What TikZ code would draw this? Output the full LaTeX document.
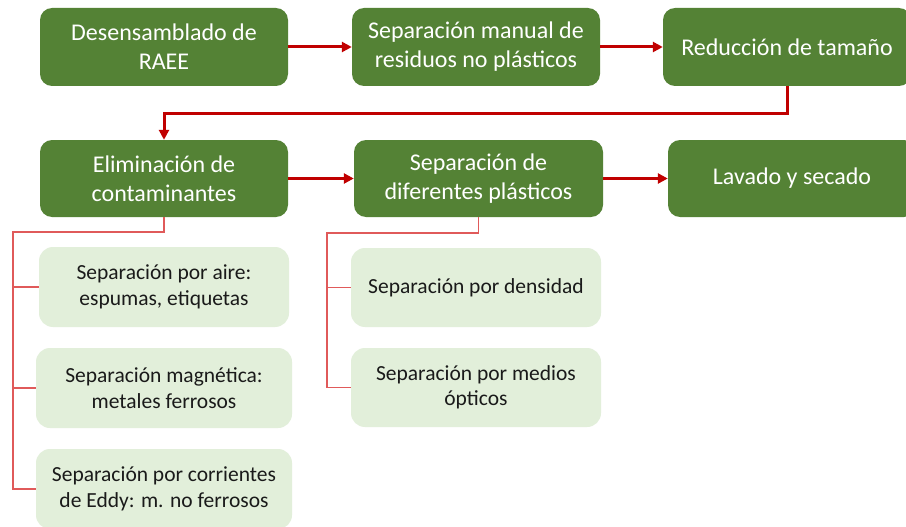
\documentclass[tikz,border=0pt]{standalone}
\usepackage{fontspec}
\setmainfont{Carlito}
\usetikzlibrary{arrows.meta,calc}
\definecolor{dgreen}{HTML}{548235}
\definecolor{lgreen}{HTML}{E2EFDA}
\definecolor{darr}{HTML}{C00000}
\definecolor{tline}{HTML}{E05A5A}
\definecolor{ltext}{HTML}{1A1A1A}
\tikzset{
  darkbox/.style={rectangle, rounded corners=12pt, fill=dgreen, text=white,
    minimum width=248pt, minimum height=78pt, align=center, inner sep=2pt,
    font=\fontsize{24}{29}\selectfont},
  lightbox/.style={rectangle, rounded corners=14pt, fill=lgreen, text=ltext,
    minimum width=250pt, minimum height=80pt, align=center, inner sep=2pt,
    font=\fontsize{21.5}{25.5}\selectfont},
  flowarr/.style={draw=darr, line width=3pt, -{Triangle[length=10pt,width=10pt]}},
  branch/.style={draw=tline, line width=1.4pt},
}
\begin{document}
\begin{tikzpicture}[x=1pt,y=-1pt]
\clip (0,0) rectangle (906,527);
\fill[white] (0,0) rectangle (906,527);
\node[darkbox] (d1) at (164,47) {Desensamblado de\\RAEE};
\node[darkbox] (d2) at (476,47) {Separación manual de\\residuos no plásticos};
\node[darkbox] (d3) at (787,47) {Reducción de tamaño};
\node[darkbox, minimum height=77pt] (d4) at (164,178.5) {Eliminación de\\contaminantes};
\node[darkbox, minimum width=249pt, minimum height=77pt] (d5) at (478.5,178.5) {Separación de\\diferentes plásticos};
\node[darkbox, minimum height=77pt] (d6) at (792,178.5) {Lavado y secado};
\node[lightbox] (l1) at (164,287) {Separación por aire:\\espumas, etiquetas};
\node[lightbox, minimum width=256pt] (l2) at (164,388) {Separación magnética:\\metales ferrosos};
\node[lightbox, minimum width=256pt] (l3) at (164,489) {Separación por corrientes\\de Eddy: m. no ferrosos};
\node[lightbox, minimum height=79pt] (r1) at (476,287.5) {Separación por densidad};
\node[lightbox, minimum height=79pt] (r2) at (476,387.5) {Separación por medios\\ópticos};
\draw[flowarr] (d1) -- (d2);
\draw[flowarr] (d2) -- (d3);
\draw[flowarr] (d3.south) -- ++(0,27) -| (d4.north);
\draw[flowarr] (d4) -- (d5);
\draw[flowarr] (d5) -- (d6);
\coordinate (la) at (13,232);
\coordinate (rb) at (327,233);
\draw[branch] (d4.south) |- (la) |- (l3.west);
\draw[branch] (la) |- (l1.west);
\draw[branch] (la) |- (l2.west);
\draw[branch] (d5.south) |- (rb) |- (r2.west);
\draw[branch] (rb) |- (r1.west);
\end{tikzpicture}
\end{document}
